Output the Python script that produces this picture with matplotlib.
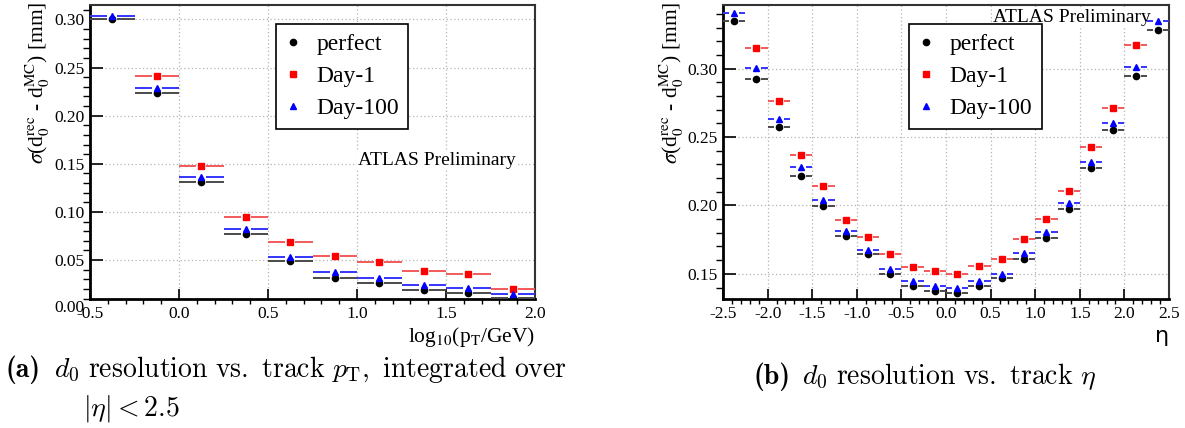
import numpy as np
import matplotlib
matplotlib.use('Agg')
import matplotlib.pyplot as plt
from matplotlib.ticker import MultipleLocator, FormatStrFormatter

nan = np.nan

# bins
pt_edges = np.linspace(-0.5, 2.0, 11)
eta_edges = np.linspace(-2.5, 2.5, 21)

# d0 resolution vs log10(pT/GeV) [mm]
perfect_pt = [0.300, 0.2238, 0.1313, 0.0766, 0.0487, 0.0310, 0.0261, 0.0191, 0.0155, 0.0103]
day1_pt = [nan, 0.2411, 0.1479, 0.0949, 0.0684, 0.0543, 0.0483, 0.0388, 0.0356, 0.0204]
day100_pt = [0.3036, 0.2291, 0.1359, 0.0819, 0.0533, 0.0371, 0.0318, 0.0244, 0.0208, 0.0144]

# d0 resolution vs eta [mm]
perfect_eta = [0.3346, 0.2927, 0.2575, 0.2216, 0.1997, 0.1778, 0.1642, 0.1497, 0.1413, 0.1373,
               0.1358, 0.1413, 0.1467, 0.1612, 0.1761, 0.1972, 0.2276, 0.2549, 0.2945, 0.3284]
day1_eta = [nan, 0.3154, 0.2763, 0.2366, 0.2144, 0.1893, 0.1769, 0.1644, 0.1550, 0.1520,
            0.1497, 0.1557, 0.1612, 0.1758, 0.1903, 0.2109, 0.2425, 0.2711, 0.3172, nan]
day100_eta = [0.3403, 0.3002, 0.2631, 0.2278, 0.2040, 0.1810, 0.1674, 0.1537, 0.1450, 0.1413,
              0.1393, 0.1445, 0.1502, 0.1649, 0.1808, 0.2015, 0.2316, 0.2604, 0.3012, 0.3348]

series = ['perfect', 'Day-1', 'Day-100']
marker_col = {'perfect': 'black', 'Day-1': 'red', 'Day-100': 'blue'}
line_col = {'perfect': '#4a4a4a', 'Day-1': '#f25a5a', 'Day-100': '#3535ff'}
markers = {'perfect': 'o', 'Day-1': 's', 'Day-100': '^'}

plt.rcParams['font.family'] = ['Liberation Serif', 'DejaVu Serif']
plt.rcParams['mathtext.fontset'] = 'stix'
plt.rcParams['axes.unicode_minus'] = False

W, H = 1185, 428
fig = plt.figure(figsize=(W / 100, H / 100), dpi=100)


def px_axes(x0, x1, top, bottom):
    return fig.add_axes([x0 / W, 1 - bottom / H, (x1 - x0) / W, (bottom - top) / H])


ax1 = px_axes(90, 535, 5, 299)
ax2 = px_axes(723, 1169, 5, 299)


def draw(ax, edges, data, xlim, ylim, gap_px, width_px):
    lo, hi = edges[:-1], edges[1:]
    centers = 0.5 * (lo + hi)
    gap = gap_px * (xlim[1] - xlim[0]) / width_px
    for name, vals in zip(series, data):
        vals = np.asarray(vals)
        ok = ~np.isnan(vals)
        ax.hlines(vals[ok], lo[ok], centers[ok] - gap, color=line_col[name], lw=1.4, zorder=3)
        ax.hlines(vals[ok], centers[ok] + gap, hi[ok], color=line_col[name], lw=1.4, zorder=3)
        ax.plot(centers[ok], vals[ok], ls='none', marker=markers[name], ms=4.5,
                color=marker_col[name], mec=marker_col[name], label=name, zorder=4)
    ax.set_xlim(*xlim)
    ax.set_ylim(*ylim)
    ax.set_axisbelow(True)
    ax.grid(True, which='major', color='#b4b4b4', ls=(0, (1, 2)), lw=0.9)
    ax.xaxis.set_major_locator(MultipleLocator(0.5))
    ax.xaxis.set_minor_locator(MultipleLocator(0.1))
    ax.yaxis.set_major_locator(MultipleLocator(0.05))
    ax.yaxis.set_minor_locator(MultipleLocator(0.01))
    ax.xaxis.set_major_formatter(FormatStrFormatter('%.1f'))
    ax.yaxis.set_major_formatter(FormatStrFormatter('%.2f'))
    ax.tick_params(direction='in', top=False, right=False, labelsize=12.5, colors='black')
    ax.tick_params(axis='y', which='major', length=9, width=1.2, pad=4)
    ax.tick_params(axis='y', which='minor', length=5, width=1.0)
    ax.tick_params(axis='x', which='major', length=7, width=1.2, pad=5)
    ax.tick_params(axis='x', which='minor', length=3.5, width=1.0)
    for s in ['left', 'bottom']:
        ax.spines[s].set_linewidth(2.0)
    for s in ['top', 'right']:
        ax.spines[s].set_linewidth(1.5)
        ax.spines[s].set_color('#333333')
    ax.set_ylabel(r'$\sigma$(d$_0^\mathrm{rec}$ - d$_0^\mathrm{MC}$) [mm]', fontsize=15.5,
                  ha='right', va='center')
    leg = ax.legend(loc='upper left', bbox_to_anchor=(0.418, 0.935), borderaxespad=0,
                    fontsize=17, numpoints=1, handlelength=0.6, handletextpad=0.7,
                    labelspacing=0.45, borderpad=0.4, fancybox=False, framealpha=1,
                    edgecolor='black', markerscale=1.0)
    leg.get_frame().set_linewidth(1.2)
    return ax


draw(ax1, pt_edges, [perfect_pt, day1_pt, day100_pt], (-0.5, 2.0), (0.0095, 0.315), 5, 445)
draw(ax2, eta_edges, [perfect_eta, day1_eta, day100_eta], (-2.5, 2.5), (0.1316, 0.3465), 5, 446)

ax1.yaxis.set_label_coords(-0.117, 1.01)
ax2.yaxis.set_label_coords(-0.114, 1.01)

# ROOT prints the 0.00 label just under the frame
ax1.text(-0.012, 0.0, '0.00', transform=ax1.get_yaxis_transform(), ha='right', va='center',
         fontsize=12.5, clip_on=False)

ax1.set_xlabel(r'log$_{10}$(p$_\mathrm{T}$/GeV)', fontsize=15.5, ha='right', va='center')
ax1.xaxis.set_label_coords(1.0, -0.13)
ax2.set_xlabel('η', fontsize=16, family='DejaVu Sans', ha='right', va='center')
ax2.xaxis.set_label_coords(1.0, -0.125)

box = dict(facecolor='white', edgecolor='none', pad=0.5)
ax1.text(0.602, 0.471, 'ATLAS Preliminary', transform=ax1.transAxes, fontsize=14,
         va='center', ha='left', bbox=box, zorder=2)
ax2.text(0.605, 0.959, 'ATLAS Preliminary', transform=ax2.transAxes, fontsize=14,
         va='center', ha='left', bbox=box, zorder=2)

# sub-figure captions (LaTeX style)
cap = dict(fontsize=20, va='baseline', ha='left', math_fontfamily='cm')
fig.text(5 / W, 1 - 377 / H, '(a)', family='cmb10', **cap)
fig.text(54 / W, 1 - 377 / H,
         r'$d_0\ \mathrm{resolution\ vs.\ track}\ p_\mathrm{T},\ \mathrm{integrated\ over}$', **cap)
fig.text(83 / W, 1 - 416 / H, r'$|\eta| < 2.5$', **cap)
fig.text(754 / W, 1 - 384 / H, '(b)', family='cmb10', **cap)
fig.text(802 / W, 1 - 384 / H, r'$d_0\ \mathrm{resolution\ vs.\ track}\ \eta$', **cap)

fig.savefig('out.png', dpi=100)
